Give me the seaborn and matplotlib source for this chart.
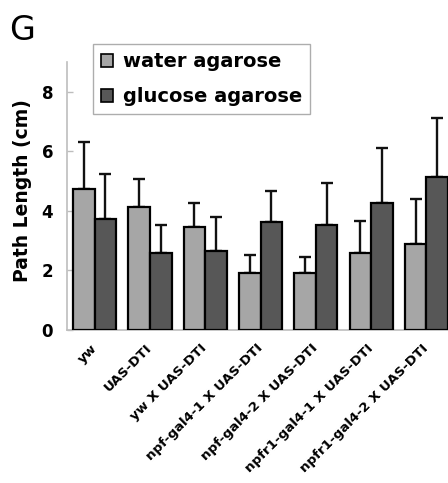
import matplotlib
matplotlib.use("Agg")
import matplotlib.pyplot as plt
import matplotlib.transforms as mtransforms
import seaborn as sns
import pandas as pd

# Genotypes tested
genotypes = ["yw", "UAS-DTI", "yw X UAS-DTI", "npf-gal4-1 X UAS-DTI",
             "npf-gal4-2 X UAS-DTI", "npfr1-gal4-1 X UAS-DTI",
             "npfr1-gal4-2 X UAS-DTI"]
conditions = ["water agarose", "glucose agarose"]

# Mean path length (cm)
water_mean = [4.74, 4.13, 3.46, 1.90, 1.90, 2.57, 2.89]
glucose_mean = [3.73, 2.57, 2.64, 3.62, 3.53, 4.27, 5.14]

# Upper error (cm)
water_err = [1.56, 0.94, 0.81, 0.61, 0.54, 1.09, 1.51]
glucose_err = [1.50, 0.96, 1.15, 1.05, 1.41, 1.83, 1.97]

yticks = [0, 2, 4, 6, 8]

sns.set_theme(style="white")
plt.rcParams["font.family"] = ["DejaVu Sans"]
plt.rcParams["text.color"] = "black"
plt.rcParams["axes.labelcolor"] = "black"

df = pd.DataFrame({
    "genotype": genotypes * 2,
    "condition": [conditions[0]] * len(genotypes) + [conditions[1]] * len(genotypes),
    "length": water_mean + glucose_mean,
})

fig = plt.figure(figsize=(4.48, 4.83), dpi=100)
ax = fig.add_axes([0.1496, 0.3178, 0.864, 0.5538])

palette = {conditions[0]: "#a6a6a6", conditions[1]: "#575757"}
sns.barplot(data=df, x="genotype", y="length", hue="condition",
            order=genotypes, hue_order=conditions, palette=palette,
            errorbar=None, width=0.78, gap=0, saturation=1,
            edgecolor="black", linewidth=1.6, ax=ax, zorder=3)

# upward-only error bars centred on each bar
errs = {conditions[0]: water_err, conditions[1]: glucose_err}
means = {conditions[0]: water_mean, conditions[1]: glucose_mean}
for cont, cond in zip(ax.containers, conditions):
    for patch, m, e in zip(cont.patches, means[cond], errs[cond]):
        xc = patch.get_x() + patch.get_width() / 2
        ax.errorbar(xc, m, yerr=[[0], [e]], fmt="none", ecolor="#111111",
                    elinewidth=1.7, capsize=4, capthick=1.7, zorder=2)

ax.set_ylim(0, 9)
ax.set_yticks(yticks)
ax.set_yticklabels([str(t) for t in yticks], fontsize=12, fontweight="bold",
                   color="black")
ax.set_xlim(-0.5, len(genotypes) - 0.5)
ax.set_xlabel("")
ax.set_ylabel("Path Length (cm)", fontsize=13.5, fontweight="bold")
ax.yaxis.set_label_coords(-0.09, 0.52)
ax.set_xticks(range(len(genotypes)))
ax.set_xticklabels(genotypes, rotation=45, ha="right", va="center",
                   rotation_mode="anchor", fontsize=9.6, fontweight="bold",
                   color="black")
shift = mtransforms.ScaledTranslation(-8 / 100, 0, fig.dpi_scale_trans)
for lbl in ax.get_xticklabels():
    lbl.set_transform(lbl.get_transform() + shift)

for side in ["top", "right"]:
    ax.spines[side].set_visible(False)
for side in ["left", "bottom"]:
    ax.spines[side].set_color("#bdbdbd")
    ax.spines[side].set_linewidth(1.2)
ax.tick_params(axis="y", which="major", direction="in", length=4.5, width=1,
               color="#bdbdbd", left=True, pad=10)
ax.tick_params(axis="x", length=0, pad=12)

leg = ax.legend(loc="upper left", bbox_to_anchor=(0.067, 1.067),
                borderaxespad=0, frameon=True, fancybox=False,
                handlelength=0.65, handleheight=0.65, handletextpad=0.5,
                labelspacing=0.85, borderpad=0.4,
                prop={"size": 14, "weight": "bold"})
leg.get_frame().set_edgecolor("#999999")
leg.get_frame().set_linewidth(1.0)
for h in leg.legend_handles:
    h.set_edgecolor("black")
    h.set_linewidth(1.2)

fig.text(0.02, 0.972, "G", fontsize=24, va="top", ha="left")

fig.savefig("out.png", dpi=100)
